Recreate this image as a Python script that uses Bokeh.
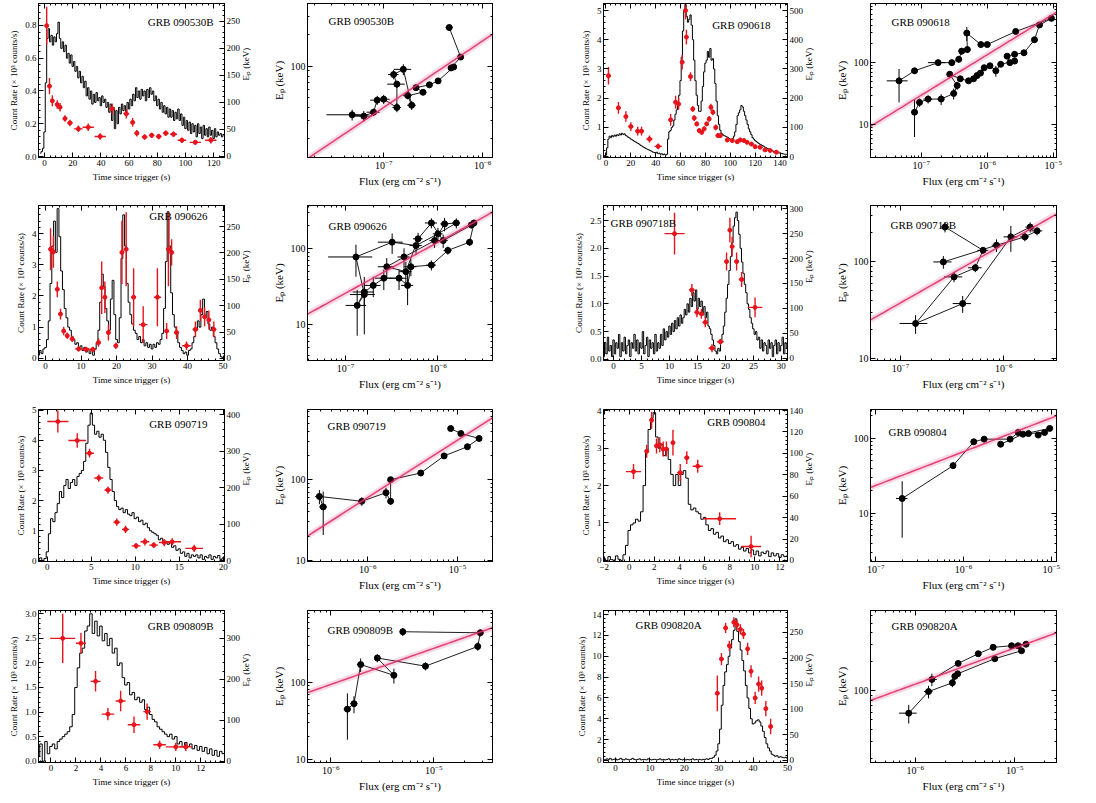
import math
import numpy as np
from bokeh.plotting import figure
from bokeh.models import (Range1d, LinearAxis, LogAxis, FixedTicker, SingleIntervalTicker,
                          Label, CustomJSTickFormatter, BasicTickFormatter, LogTickFormatter,
                          PrintfTickFormatter)
from bokeh.layouts import row, column
from bokeh.embed import file_html
from bokeh.resources import INLINE

FONT = "Liberation Serif"
RED = "#e8141c"
FIT = "#e0306a"

# ------------------------------------------------------------------ DATA
# ---- GRB 090530B
lc_090530b_t0 = -3.0
lc_090530b_dt = 1.0
lc_090530b_rate = [0.02, 0.03, 0.05,
    0.15, 0.45, 0.72, 0.78, 0.70, 0.74, 0.68, 0.73, 0.70, 0.75,
    0.82, 0.72, 0.66, 0.70, 0.64, 0.68, 0.60, 0.63, 0.57, 0.62,
    0.55, 0.58, 0.52, 0.55, 0.48, 0.52, 0.45, 0.49, 0.42, 0.46,
    0.37, 0.42, 0.35, 0.40, 0.32, 0.38, 0.33, 0.39, 0.34, 0.36,
    0.31, 0.37, 0.33, 0.35, 0.30, 0.33, 0.27, 0.32, 0.22, 0.30,
    0.17, 0.28, 0.20, 0.30, 0.26, 0.32, 0.28, 0.31, 0.27, 0.33,
    0.29, 0.35, 0.31, 0.38, 0.34, 0.42, 0.36, 0.40, 0.35, 0.41,
    0.37, 0.40, 0.34, 0.41, 0.36, 0.42, 0.38, 0.40, 0.34, 0.37,
    0.31, 0.35, 0.29, 0.33, 0.27, 0.31, 0.26, 0.30, 0.24, 0.29,
    0.24, 0.28, 0.22, 0.27, 0.23, 0.29, 0.22, 0.26, 0.19, 0.24,
    0.17, 0.22, 0.16, 0.21, 0.14, 0.20, 0.15, 0.19, 0.12, 0.20,
    0.14, 0.18, 0.11, 0.19, 0.13, 0.17, 0.12, 0.18, 0.13, 0.16,
    0.11, 0.17, 0.12, 0.15, 0.13, 0.14, 0.12, 0.13]
ep_090530b_t = [1.5, 3.5, 5.5, 9, 11, 14.5, 18, 24, 31, 39.5, 48, 58, 62.5, 65.5, 71, 76, 81, 86, 91.5, 97.5, 107, 118]
ep_090530b_dt = [1, 1, 1, 1, 1, 1.5, 2, 3, 4, 4, 2, 2, 1.5, 1.5, 2, 2, 2, 2, 2.5, 3, 4, 4]
ep_090530b_val = [242, 130, 103, 96, 91, 70, 62, 51, 54, 37, 88, 79, 63, 43, 36, 39, 37, 43, 41, 30, 26, 30]
ep_090530b_err = [35, 15, 10, 8, 8, 6, 6, 6, 7, 6, 10, 9, 8, 6, 5, 5, 5, 5, 5, 5, 5, 6]
ef_090530b_flux = [4.6e-7, 6.0e-7, 4.8e-7, 5.1e-7, 3.55e-7, 2.9e-7, 2.12e-7, 2.5e-7, 1.75e-7, 1.92e-7,
                   1.58e-7, 1.26e-7, 1.36e-7, 1.36e-7, 1.0e-7, 8.6e-8, 7.9e-8, 6.3e-8, 4.8e-8]
ef_090530b_ep = [235, 122, 96, 98, 72, 66, 62, 56, 52, 42, 93, 83, 67, 40, 48, 47, 36, 33, 34]
ef_090530b_ferr = [0.08, 0.06, 0.06, 0.06, 0.06, 0.07, 0.08, 0.08, 0.1, 0.1, 0.2, 0.12, 0.2, 0.1, 0.15, 0.15, 0.15, 0.2, 0.45]
ef_090530b_eerr = [0.07, 0.05, 0.04, 0.04, 0.05, 0.05, 0.06, 0.06, 0.08, 0.1, 0.12, 0.1, 0.08, 0.1, 0.1, 0.1, 0.08, 0.12, 0.12]
fit_090530b = (1e-7, 40.0, 0.64)

# ---- GRB 090618
lc_090618_t0 = -2.0
lc_090618_dt = 1.0
lc_090618_rate = [0.02, 0.03, 0.05, 0.30, 0.60, 0.70, 0.65, 0.72, 0.68, 0.74,
    0.70, 0.75, 0.72, 0.78, 0.74, 0.80, 0.76, 0.78, 0.72, 0.70,
    0.66, 0.64, 0.60, 0.58, 0.55, 0.52, 0.50, 0.47, 0.45, 0.42,
    0.38, 0.36, 0.33, 0.31, 0.28, 0.26, 0.24, 0.22, 0.20, 0.18,
    0.15, 0.14, 0.12, 0.15, 0.10, 0.12, 0.08, 0.10, 0.06, 0.09,
    0.05, 0.08, 0.60, 0.85, 0.90, 1.00, 1.05, 1.25, 1.45, 1.60,
    1.85, 2.10, 2.60, 3.40, 4.30, 5.00, 5.20, 4.80, 4.60, 4.70,
    4.85, 4.50, 4.00, 3.30, 2.60, 2.10, 1.75, 1.55, 1.55, 1.90,
    2.40, 2.90, 3.20, 3.30, 3.60, 3.40, 3.70, 3.30, 3.35, 3.00,
    2.50, 1.90, 1.40, 1.10, 0.90, 0.80, 0.75, 0.72, 0.70, 0.68,
    0.66, 0.62, 0.60, 0.58, 0.62, 0.70, 0.85, 1.10, 1.40, 1.50,
    1.60, 1.75, 1.70, 1.55, 1.40, 1.25, 1.10, 0.95, 0.85, 0.75,
    0.65, 0.60, 0.55, 0.52, 0.48, 0.45, 0.42, 0.40, 0.38, 0.35,
    0.32, 0.30, 0.28, 0.26, 0.24, 0.22, 0.20, 0.18, 0.17, 0.15,
    0.14, 0.13, 0.12, 0.11, 0.10, 0.09, 0.08, 0.08, 0.07, 0.06]
ep_090618_t = [2, 10, 16, 20, 25.5, 28.6, 35, 42, 52, 56, 58.4, 61.3, 64, 64.7, 68, 69.8, 71, 73,
               75, 77, 79, 81, 83, 84.4, 86, 88.3, 90, 92, 97.6, 101.6, 105.6, 108, 111, 113.5,
               117, 120, 124, 128, 132, 137]
ep_090618_dt = [2, 2, 1.5, 2, 2, 2, 2.5, 3, 1.5, 1, 1, 0.7, 0.7, 0.7, 0.7, 0.7, 0.7, 0.7,
                0.7, 0.7, 0.7, 0.7, 0.7, 0.7, 0.7, 0.7, 0.8, 0.8, 1.5, 1.5, 1.5, 1.5, 1.5, 1.5,
                1.5, 1.5, 2, 2, 2, 2.5]
ep_090618_val = [277, 167, 137, 103, 87, 87, 60, 35, 126, 186, 180, 323, 500, 409, 274, 163, 132, 112,
                 89, 83, 95, 112, 129, 169, 152, 100, 72, 72, 57, 55, 51, 57, 55, 49,
                 43, 34, 32, 23, 21, 15]
ep_090618_err = [30, 20, 18, 15, 15, 15, 12, 10, 20, 22, 20, 25, 30, 25, 15, 10, 10, 8,
                 8, 8, 8, 8, 10, 12, 10, 10, 8, 8, 8, 8, 8, 8, 8, 7,
                 7, 7, 7, 6, 6, 6]
ef_090618_flux = [4.6e-8, 7.9e-8, 1.8e-7, 2.9e-7, 3.7e-7, 4.1e-7, 5.0e-7, 4.9e-7, 8.0e-7, 1.0e-6,
                  2.7e-6, 9.4e-6, 6.2e-6, 5.2e-6, 3.6e-6, 2.6e-6, 2.0e-6, 2.2e-6, 2.6e-6, 1.6e-6,
                  1.35e-6, 1.1e-6, 9.0e-7, 7.9e-7, 7.0e-7, 6.2e-7, 5.2e-7, 3.9e-7, 2.7e-7, 3.5e-7,
                  3.1e-7, 2.0e-7, 1.27e-7, 9.4e-8, 7.9e-8]
ef_090618_ep = [51, 74, 100, 100, 113, 153, 162, 298, 195, 195,
                316, 514, 403, 233, 144, 136, 127, 100, 106, 94,
                74, 89, 83, 68, 62, 55, 51, 55, 65, 43,
                32, 26, 26, 23, 16]
ef_090618_ferr = [0.35, 0.1, 0.3, 0.12, 0.1, 0.1, 0.1, 0.1, 0.1, 0.08,
                  0.06, 0.05, 0.05, 0.05, 0.05, 0.05, 0.05, 0.05, 0.05, 0.06,
                  0.06, 0.06, 0.06, 0.06, 0.06, 0.06, 0.07, 0.08, 0.1, 0.1,
                  0.1, 0.12, 0.15, 0.12, 0.1]
ef_090618_eerr = [0.55, 0.1, 0.12, 0.12, 0.1, 0.12, 0.12, 0.25, 0.08, 0.08,
                  0.05, 0.05, 0.05, 0.05, 0.06, 0.06, 0.06, 0.06, 0.06, 0.08,
                  0.2, 0.1, 0.08, 0.08, 0.08, 0.08, 0.08, 0.1, 0.12, 0.15,
                  0.2, 0.2, 0.15, 0.15, 0.6]
fit_090618 = (1e-7, 30.0, 0.65)

# ---- GRB 090626
lc_090626_t0 = -2.0
lc_090626_dt = 0.5
lc_090626_rate = [0.10, 0.25, 0.15, 0.30, 0.35, 0.60, 1.20, 2.40, 3.60, 4.40,
    3.40, 4.80, 3.90, 2.80, 2.20, 1.60, 1.30, 1.00, 0.90, 0.70,
    0.60, 0.45, 0.50, 0.35, 0.40, 0.25, 0.35, 0.20, 0.30, 0.15,
    0.25, 0.10, 0.30, 0.50, 0.90, 1.80, 2.70, 2.30, 1.60, 1.20,
    0.90, 1.90, 2.50, 1.40, 0.60, 0.50, 1.30, 3.20, 4.60, 3.60,
    2.40, 1.80, 1.40, 1.10, 0.90, 0.80, 0.60, 0.70, 0.50, 0.60,
    0.40, 0.50, 0.35, 0.45, 0.30, 0.45, 0.35, 0.50, 0.45, 0.60,
    0.80, 1.60, 3.10, 4.70, 3.60, 2.10, 1.40, 1.00, 0.80, 0.50,
    0.35, 0.25, 0.15, 0.20, 0.10, 0.25, 0.30, 0.50, 0.70, 0.90,
    1.20, 1.00, 1.40, 1.90, 1.30, 1.50, 1.10, 0.90, 1.00, 0.70,
    0.50, 0.30, 0.15, 0.05, 0.00, 0.00]
ep_090626_t = [1.4, 2.2, 3.3, 4.2, 5.1, 6.1, 7.5, 9.3, 11.4, 13.3, 14.9, 15.8, 16.7, 17.7, 19.8,
               21.5, 22.7, 24.8, 27.5, 31.5, 34.1, 34.6, 35.5, 36.9, 39.7, 42.2, 43.6, 44.8, 46, 47.4]
ep_090626_dt = [0.4, 0.4, 0.4, 0.4, 0.4, 0.5, 0.7, 1.0, 1.2, 1.0, 0.6, 0.4, 0.4, 0.5, 0.6,
                0.4, 0.5, 0.7, 1.2, 1.0, 0.4, 0.4, 0.5, 0.7, 1.2, 0.8, 0.5, 0.5, 0.6, 0.7]
ep_090626_val = [207, 202, 131, 84, 52, 43, 37, 18, 17, 17, 30, 134, 116, 49, 24,
                 201, 207, 116, 64, 116, 52, 207, 201, 49, 24, 55, 91, 79, 73, 55]
ep_090626_err = [40, 30, 15, 10, 8, 6, 6, 5, 5, 5, 8, 50, 30, 15, 6,
                 60, 70, 55, 35, 55, 15, 70, 25, 12, 8, 15, 20, 18, 18, 15]
ef_090626_flux = [2.45e-6, 2.2e-6, 1.28e-6, 8.5e-7, 5.1e-7, 4.7e-7, 3.8e-7, 2.6e-7, 2.0e-7, 1.6e-7,
                  1.34e-7, 1.6e-7, 1.3e-7, 3.2e-7, 5.8e-7, 1.0e-6, 1.58e-6, 1.18e-6, 9.2e-7, 4.3e-7,
                  2.8e-7, 4.5e-7, 6.1e-7, 8.5e-7, 1.14e-6, 2.3e-6]
ef_090626_ep = [218, 122, 95, 61, 58, 33, 41, 41, 33, 27,
                18, 25, 78, 122, 110, 157, 218, 212, 128, 78,
                58, 50, 135, 218, 128, 205]
ef_090626_ferr = [0.08, 0.08, 0.1, 0.12, 0.15, 0.15, 0.2, 0.2, 0.2, 0.25,
                  0.25, 0.3, 0.5, 0.3, 0.15, 0.12, 0.1, 0.1, 0.12, 0.15,
                  0.2, 0.15, 0.12, 0.15, 0.12, 0.08]
ef_090626_eerr = [0.1, 0.1, 0.12, 0.15, 0.25, 0.45, 0.3, 0.3, 0.3, 0.35,
                  0.6, 0.7, 0.45, 0.3, 0.25, 0.2, 0.15, 0.2, 0.2, 0.3,
                  0.3, 0.35, 0.2, 0.15, 0.2, 0.1]
fit_090626 = (1e-7, 26.0, 0.67)

# ---- GRB 090718B
lc_090718b_t0 = -2.0
lc_090718b_dt = 0.25
lc_090718b_rate = [0.20, 0.05, 0.30, 0.10, 0.40, 0.15, 0.25, 0.05,
    0.35, 0.10, 0.30, 0.20, 0.45, 0.05, 0.30, 0.15,
    0.40, 0.10, 0.25, 0.35, 0.05, 0.30, 0.20, 0.45,
    0.15, 0.35, 0.10, 0.30, 0.20, 0.50, 0.10, 0.25,
    0.40, 0.05, 0.35, 0.20, 0.30, 0.10, 0.45, 0.15,
    0.30, 0.20, 0.45, 0.25, 0.55, 0.35, 0.50, 0.40,
    0.60, 0.45, 0.65, 0.50, 0.70, 0.55, 0.75, 0.60,
    0.80, 0.65, 0.75, 0.90, 0.80, 1.00, 0.85, 1.10,
    0.95, 1.20, 1.05, 1.25, 0.90, 1.10, 0.95, 1.05,
    0.80, 0.95, 0.75, 0.85, 0.60, 0.55, 0.45, 0.35,
    0.25, 0.15, 0.10, 0.20, 0.15, 0.30, 0.45, 0.60,
    0.85, 1.10, 1.35, 1.60, 1.85, 2.10, 2.40, 2.55,
    2.65, 2.50, 2.25, 2.00, 1.75, 1.55, 1.35, 1.20,
    1.00, 0.90, 0.75, 0.65, 0.55, 0.45, 0.50, 0.35,
    0.40, 0.20, 0.35, 0.15, 0.30, 0.25, 0.10, 0.35,
    0.20, 0.30, 0.05, 0.25, 0.35, 0.10, 0.30, 0.15,
    0.25, 0.40, 0.10, 0.30, 0.20]
ep_090718b_t = [10.9, 14.0, 14.9, 15.7, 16.4, 17.6, 19.1, 20.2, 20.8, 21.2, 22.0, 22.9, 25.3]
ep_090718b_dt = [1.8, 0.5, 0.4, 0.4, 0.5, 0.6, 0.6, 0.3, 0.3, 0.3, 0.4, 0.5, 1.3]
ep_090718b_val = [250, 137, 92, 89, 72, 20, 33, 194, 257, 224, 194, 158, 102]
ep_090718b_err = [42, 12, 10, 10, 10, 8, 6, 18, 25, 20, 18, 15, 20]
ef_090718b_flux = [2.7e-7, 6.3e-7, 5.3e-7, 3.3e-7, 1.4e-7, 4.0e-7, 1.17e-6, 1.8e-6, 2.1e-6, 1.6e-6, 8.5e-7, 2.6e-7]
ef_090718b_ep = [230, 132, 87, 70, 23, 37, 182, 230, 210, 182, 149, 100]
ef_090718b_ferr = [0.1, 0.12, 0.15, 0.2, 0.3, 0.2, 0.15, 0.1, 0.12, 0.1, 0.1, 0.2]
ef_090718b_eerr = [0.12, 0.08, 0.1, 0.12, 0.22, 0.2, 0.3, 0.12, 0.1, 0.1, 0.15, 0.15]
fit_090718b = (1e-7, 37.6, 0.61)

# ---- GRB 090719
lc_090719_t0 = -1.0
lc_090719_dt = 0.25
lc_090719_rate = [0.05, 0.10, 0.00, 0.08, 0.30, 0.90, 1.40, 1.30, 1.60, 1.90,
    2.30, 2.10, 2.50, 2.70, 2.40, 2.60, 2.70, 2.50, 2.80, 2.90,
    3.00, 3.30, 3.90, 4.50, 4.90, 4.50, 4.20, 4.30, 4.10, 4.20,
    4.00, 3.60, 3.10, 2.70, 2.30, 2.00, 1.80, 1.70, 1.75, 1.60,
    1.70, 1.55, 1.50, 1.60, 1.40, 1.45, 1.30, 1.35, 1.20, 1.25,
    1.10, 1.00, 0.95, 0.90, 0.85, 0.70, 0.75, 0.60, 0.65, 0.55,
    0.60, 0.45, 0.50, 0.35, 0.40, 0.25, 0.30, 0.15, 0.25, 0.10,
    0.20, 0.15, 0.20, 0.10, 0.20, 0.05, 0.15, 0.10, 0.20, 0.05,
    0.15, 0.10, 0.18, 0.05, 0.10]
ep_090719_t = [1.2, 3.4, 4.8, 5.85, 6.9, 7.9, 8.9, 10.1, 11.1, 12.1, 13.3, 14.2, 16.7]
ep_090719_dt = [1.2, 1.0, 0.5, 0.5, 0.4, 0.4, 0.4, 0.5, 0.5, 0.5, 0.6, 1.0, 1.0]
ep_090719_val = [382, 330, 295, 227, 194, 106, 86, 41, 52, 43, 50, 52, 34]
ep_090719_err = [30, 20, 12, 10, 10, 10, 10, 8, 10, 8, 10, 10, 10]
ef_090719_flux = [8.4e-6, 1.09e-5, 1.74e-5, 1.29e-5, 7.1e-6, 3.9e-6, 1.8e-6, 1.8e-6, 1.6e-6, 8.6e-7, 2.9e-7, 3.2e-7]
ef_090719_ep = [430, 373, 324, 256, 197, 121, 100, 54, 69, 54, 62, 46]
ef_090719_ferr = [0.05, 0.05, 0.05, 0.05, 0.06, 0.06, 0.05, 0.05, 0.05, 0.08, 0.1, 0.1]
ef_090719_eerr = [0.05, 0.05, 0.05, 0.05, 0.05, 0.08, 0.06, 0.1, 0.15, 0.12, 0.2, 0.55]
fit_090719 = (1e-6, 60.0, 0.71)

# ---- GRB 090804
lc_090804_t0 = -2.0
lc_090804_dt = 0.2
lc_090804_rate = [0.05, 0.00, 0.10, 0.02, 0.00, 0.12, 0.03, 0.00, 0.15, 0.40,
    0.80, 0.95, 1.00, 1.10, 1.05, 1.30, 2.00, 2.90, 3.50, 3.80,
    3.95, 3.30, 3.00, 3.10, 2.80, 3.00, 2.70, 2.30, 2.00, 2.30,
    2.00, 2.30, 2.40, 2.20, 1.50, 1.35, 1.40, 1.30, 1.25, 1.10,
    1.15, 0.95, 0.80, 0.85, 0.70, 0.75, 0.60, 0.65, 0.50, 0.55,
    0.45, 0.50, 0.38, 0.42, 0.30, 0.35, 0.25, 0.32, 0.20, 0.28,
    0.15, 0.25, 0.12, 0.22, 0.18, 0.25, 0.10, 0.20, 0.12, 0.18,
    0.08, 0.15, 0.10, 0.12]
ep_090804_t = [0.34, 1.39, 1.78, 2.17, 2.43, 2.7, 2.96, 3.48, 4.06, 4.58, 5.45, 7.2, 9.7]
ep_090804_dt = [0.6, 0.15, 0.12, 0.12, 0.12, 0.12, 0.15, 0.15, 0.25, 0.2, 0.4, 1.3, 0.8]
ep_090804_val = [83, 102, 131, 107, 108, 104, 104, 110, 82, 96, 88, 39, 13]
ep_090804_err = [7, 6, 8, 7, 7, 7, 7, 12, 8, 6, 6, 6, 10]
ef_090804_flux = [2.65e-6, 4.75e-6, 9.6e-6, 7.1e-6, 8.4e-6, 5.5e-6, 4.2e-6, 3.4e-6, 1.72e-6, 1.31e-6, 7.6e-7, 2.0e-7]
ef_090804_ep = [83, 113, 135, 110, 119, 115, 119, 97, 97, 89.5, 43, 15.7]
ef_090804_ferr = [0.05, 0.05, 0.04, 0.04, 0.04, 0.05, 0.05, 0.05, 0.06, 0.08, 0.08, 0.15]
ef_090804_eerr = [0.06, 0.06, 0.05, 0.05, 0.05, 0.06, 0.06, 0.06, 0.06, 0.08, 0.1, 0.7]
fit_090804 = (1e-6, 66.0, 0.45)

# ---- GRB 090809B
lc_090809b_t0 = -1.0
lc_090809b_dt = 0.2
lc_090809b_rate = [0.10, 0.35, 0.00, 0.40, 0.15, 0.30, 0.35, 0.25, 0.40, 0.45,
    0.50, 0.55, 0.60, 0.70, 0.95, 1.50, 1.90, 2.20, 2.30, 2.65,
    2.75, 3.00, 2.60, 2.85, 2.55, 2.75, 2.45, 2.60, 2.35, 2.50,
    2.20, 2.30, 1.95, 2.00, 1.70, 1.55, 1.60, 1.35, 1.40, 1.25,
    1.30, 1.20, 1.25, 1.05, 1.10, 0.95, 0.85, 0.80, 0.70, 0.65,
    0.60, 0.55, 0.50, 0.55, 0.45, 0.50, 0.35, 0.40, 0.30, 0.38,
    0.30, 0.35, 0.25, 0.32, 0.22, 0.30, 0.20, 0.28, 0.15, 0.25,
    0.12, 0.22, 0.10, 0.20, 0.15]
ep_090809b_t = [0.94, 2.4, 3.57, 4.56, 5.58, 6.65, 7.7, 8.7, 10.0, 10.8]
ep_090809b_dt = [1.0, 0.4, 0.4, 0.5, 0.4, 0.5, 0.3, 0.5, 0.8, 0.5]
ep_090809b_val = [300, 288, 195, 115, 147, 89, 121, 40, 35, 35]
ep_090809b_err = [60, 25, 25, 15, 25, 20, 20, 10, 10, 10]
ef_090809b_flux = [5.0e-6, 2.83e-5, 2.67e-5, 8.3e-6, 2.83e-6, 4.1e-6, 1.95e-6, 1.68e-6, 1.45e-6]
ef_090809b_ep = [457, 443, 294, 163, 208, 124, 171, 53, 45]
ef_090809b_ferr = [0.05, 0.05, 0.05, 0.06, 0.07, 0.07, 0.08, 0.08, 0.08]
ef_090809b_eerr = [0.12, 0.1, 0.12, 0.12, 0.12, 0.22, 0.2, 0.25, 0.6]
fit_090809b = (1e-5, 278.0, 0.47)

# ---- GRB 090820A
lc_090820a_t0 = -3.5
lc_090820a_dt = 0.5
lc_090820a_rate = [0.10, 0.05, 0.15, 0.10, 0.20, 0.05, 0.10, 0.15, 0.05, 0.10,
    0.20, 0.10, 0.05, 0.15, 0.10, 0.05, 0.10, 0.20, 0.10, 0.05,
    0.10, 0.15, 0.05, 0.10, 0.10, 0.05, 0.15, 0.10, 0.05, 0.10,
    0.10, 0.05, 0.10, 0.15, 0.05, 0.10, 0.05, 0.10, 0.15, 0.05,
    0.10, 0.05, 0.10, 0.05, 0.15, 0.10, 0.05, 0.10, 0.05, 0.10,
    0.05, 0.10, 0.15, 0.05, 0.10, 0.05, 0.10, 0.05, 0.10, 0.10,
    0.15,
    0.10, 0.20, 0.20, 0.30, 0.50, 0.90, 1.60, 3.00, 5.30, 7.20,
    8.50, 9.20, 10.0, 10.8, 11.6, 12.5, 13.6, 12.4, 11.4, 10.6,
    9.60, 8.60, 7.20, 6.00, 5.00, 4.00, 3.50, 3.60, 3.80, 3.90,
    3.70, 3.30, 2.80, 2.20, 1.60, 1.20, 0.90, 0.60, 0.50, 0.40,
    0.45, 0.30, 0.35, 0.30, 0.25, 0.30, 0.20]
ep_090820a_t = [29.6, 30.8, 32.0, 33.1, 34.4, 35.3, 36.3, 37.2, 38.4, 39.4, 40.6, 41.6, 42.5, 43.7, 45.1]
ep_090820a_dt = [0.6, 0.5, 0.5, 0.5, 0.5, 0.5, 0.5, 0.5, 0.5, 0.5, 0.5, 0.5, 0.5, 0.5, 0.6]
ep_090820a_val = [131, 198, 259, 224, 270, 265, 256, 247, 218, 174, 122, 149, 141, 101, 66]
ep_090820a_err = [35, 12, 10, 10, 10, 10, 10, 10, 12, 12, 12, 15, 15, 15, 15]
ef_090820a_flux = [1.47e-6, 2.7e-6, 4.3e-6, 6.07e-6, 9.3e-6, 1.3e-5, 1.08e-5, 1.17e-5, 6.3e-6, 2.67e-6,
                   2.5e-6, 2.36e-6, 1.36e-6, 8.6e-7]
ef_090820a_ep = [131, 192, 242, 282, 293, 304, 293, 260, 215, 150, 141, 121, 98, 58.5]
ef_090820a_ferr = [0.12, 0.05, 0.04, 0.04, 0.04, 0.04, 0.04, 0.04, 0.04, 0.06, 0.06, 0.06, 0.1, 0.2]
ef_090820a_eerr = [0.15, 0.06, 0.05, 0.04, 0.04, 0.04, 0.04, 0.05, 0.05, 0.06, 0.08, 0.1, 0.15, 0.22]
fit_090820a = (1e-6, 117.0, 0.375)

# ------------------------------------------------------------------ PANEL SETTINGS
LC = {
    "090530B": dict(t0=lc_090530b_t0, dt=lc_090530b_dt, rate=lc_090530b_rate, ept=ep_090530b_t, epdt=ep_090530b_dt,
                    epv=ep_090530b_val, epe=ep_090530b_err, xr=(-4.3, 127.7), yr=(-0.006, 0.934), y2r=(-2, 283),
                    xi=20, yi=0.2, y2i=50, yfmt="%.1f", lab=("right", 11, 12)),
    "090618": dict(t0=lc_090618_t0, dt=lc_090618_dt, rate=lc_090618_rate, ept=ep_090618_t, epdt=ep_090618_dt,
                   epv=ep_090618_val, epe=ep_090618_err, xr=(-2, 146), yr=(-0.03, 5.24), y2r=(-3, 524),
                   xi=20, yi=1, y2i=100, yfmt="%d", lab=("right", 17, 15)),
    "090626": dict(t0=lc_090626_t0, dt=lc_090626_dt, rate=lc_090626_rate, ept=ep_090626_t, epdt=ep_090626_dt,
                   epv=ep_090626_val, epe=ep_090626_err, xr=(-2, 50.4), yr=(-0.07, 4.9), y2r=(-4, 290),
                   xi=10, yi=1, y2i=50, yfmt="%d", lab=("right", 17, 11)),
    "090718B": dict(t0=lc_090718b_t0, dt=lc_090718b_dt, rate=lc_090718b_rate, ept=ep_090718b_t, epdt=ep_090718b_dt,
                    epv=ep_090718b_val, epe=ep_090718b_err, xr=(-1.8, 31.1), yr=(-0.02, 2.77), y2r=(-4.6, 306.5),
                    xi=5, yi=0.5, y2i=50, yfmt="%.1f", lab=("left", 7, 14)),
    "090719": dict(t0=lc_090719_t0, dt=lc_090719_dt, rate=lc_090719_rate, ept=ep_090719_t, epdt=ep_090719_dt,
                   epv=ep_090719_val, epe=ep_090719_err, xr=(-1, 20.15), yr=(-0.02, 5.02), y2r=(-2, 415),
                   xi=5, yi=1, y2i=100, yfmt="%d", lab=("right", 17, 9)),
    "090804": dict(t0=lc_090804_t0, dt=lc_090804_dt, rate=lc_090804_rate, ept=ep_090804_t, epdt=ep_090804_dt,
                   epv=ep_090804_val, epe=ep_090804_err, xr=(-2.05, 12.6), yr=(-0.03, 4.035), y2r=(-1, 141),
                   xi=2, yi=1, y2i=20, yfmt="%d", lab=("right", 22, 7)),
    "090809B": dict(t0=lc_090809b_t0, dt=lc_090809b_dt, rate=lc_090809b_rate, ept=ep_090809b_t, epdt=ep_090809b_dt,
                    epv=ep_090809b_val, epe=ep_090809b_err, xr=(-1, 13.9), yr=(-0.027, 3.067), y2r=(-3.2, 368),
                    xi=2, yi=0.5, y2i=100, yfmt="%.1f", lab=("right", 11, 10)),
    "090820A": dict(t0=lc_090820a_t0, dt=lc_090820a_dt, rate=lc_090820a_rate, ept=ep_090820a_t, epdt=ep_090820a_dt,
                    epv=ep_090820a_val, epe=ep_090820a_err, xr=(-3.5, 50), yr=(-0.2, 14.4), y2r=(-4.4, 293),
                    xi=10, yi=2, y2i=50, yfmt="%d", lab=("left", 32, 19)),
}
EF = {
    "090530B": dict(flux=ef_090530b_flux, ep=ef_090530b_ep, ferr=ef_090530b_ferr, eerr=ef_090530b_eerr,
                    fit=fit_090530b, lx=(-7.77, -5.9), yr=(13.2, 400), lab=(21, 14)),
    "090618": dict(flux=ef_090618_flux, ep=ef_090618_ep, ferr=ef_090618_ferr, eerr=ef_090618_eerr,
                   fit=fit_090618, lx=(-7.77, -4.95), yr=(3.0, 890), lab=(21, 16)),
    "090626": dict(flux=ef_090626_flux, ep=ef_090626_ep, ferr=ef_090626_ferr, eerr=ef_090626_eerr,
                   fit=fit_090626, lx=(-7.41, -5.41), yr=(3.4, 370), lab=(21, 15)),
    "090718B": dict(flux=ef_090718b_flux, ep=ef_090718b_ep, ferr=ef_090718b_ferr, eerr=ef_090718b_eerr,
                    fit=fit_090718b, lx=(-7.29, -5.49), yr=(9.5, 385), lab=(20, 15)),
    "090719": dict(flux=ef_090719_flux, ep=ef_090719_ep, ferr=ef_090719_ferr, eerr=ef_090719_eerr,
                   fit=fit_090719, lx=(-6.67, -4.61), yr=(9.7, 740), lab=(20, 11)),
    "090804": dict(flux=ef_090804_flux, ep=ef_090804_ep, ferr=ef_090804_ferr, eerr=ef_090804_eerr,
                   fit=fit_090804, lx=(-7.06, -4.94), yr=(2.27, 241), lab=(18, 18)),
    "090809B": dict(flux=ef_090809b_flux, ep=ef_090809b_ep, ferr=ef_090809b_ferr, eerr=ef_090809b_eerr,
                    fit=fit_090809b, lx=(-6.226, -4.43), yr=(9.1, 863), lab=(20, 16)),
    "090820A": dict(flux=ef_090820a_flux, ep=ef_090820a_ep, ferr=ef_090820a_ferr, eerr=ef_090820a_eerr,
                    fit=fit_090820a, lx=(-6.45, -4.58), yr=(18, 680), lab=(21, 15)),
}

# column geometry: (width, border_left, border_right)
COLS = [(265, 38, 41), (283, 42, 56), (282, 55, 43), (266, 40, 40)]
# rows: (height, [(top, bottom) for each of 4 columns], [grb left, grb right])
ROWS = [
    (196, [(3, 39), (3, 36), (3, 39), (2, 36)], ["090530B", "090618"]),
    (202, [(3, 37), (9, 37), (7, 37), (7, 38)], ["090626", "090718B"]),
    (202, [(10, 39), (11, 38), (10, 39), (9, 39)], ["090719", "090804"]),
    (203, [(10, 40), (7, 41), (3, 37), (8, 37)], ["090809B", "090820A"]),
]


def blank():
    return CustomJSTickFormatter(code="return ''")


def style(ax, tick_fs, label_fs):
    ax.axis_line_color = "black"
    ax.axis_line_width = 1
    ax.major_tick_in = 5
    ax.major_tick_out = 0
    ax.minor_tick_in = 2
    ax.minor_tick_out = 0
    ax.major_tick_line_color = "black"
    ax.minor_tick_line_color = "black"
    ax.major_label_text_font = FONT
    ax.major_label_text_font_size = tick_fs
    ax.major_label_text_color = "black"
    ax.axis_label_text_font = FONT
    ax.axis_label_text_font_size = label_fs
    ax.axis_label_text_font_style = "normal"
    ax.axis_label_text_color = "black"
    ax.major_label_standoff = 2
    ax.axis_label_standoff = 3


def base_fig(W, H, bl, br, bt, bb, **kw):
    p = figure(width=W, height=H, output_backend="svg", toolbar_location=None,
               min_border_left=bl, min_border_right=br, min_border_top=bt, min_border_bottom=bb, **kw)
    p.xgrid.visible = False
    p.ygrid.visible = False
    p.outline_line_color = "black"
    p.background_fill_color = "white"
    p.border_fill_color = "white"
    return p


def grb_label(p, name, fw, fh, align, dx, dy):
    x = fw - dx if align == "right" else dx
    p.add_layout(Label(x=x, y=fh - dy, x_units="screen", y_units="screen", text="GRB " + name,
                       text_font=FONT, text_font_size="11px", text_align=align,
                       text_baseline="top", text_color="black"))


def make_lc(name, W, H, bl, br, bt, bb):
    c = LC[name]
    p = base_fig(W, H, bl, br, bt, bb, x_range=Range1d(*c["xr"]), y_range=Range1d(*c["yr"]))
    p.extra_y_ranges = {"ep": Range1d(*c["y2r"])}
    t = c["t0"] + c["dt"] * np.arange(len(c["rate"]))
    p.step(t, c["rate"], mode="center", line_color="black", line_width=1)
    et = np.array(c["ept"], float)
    ed = np.array(c["epdt"], float)
    ev = np.array(c["epv"], float)
    ee = np.array(c["epe"], float)
    p.segment(et - ed, ev, et + ed, ev, y_range_name="ep", line_color=RED, line_width=1.4)
    p.segment(et, ev - ee, et, ev + ee, y_range_name="ep", line_color=RED, line_width=1.4)
    p.scatter(et, ev, y_range_name="ep", size=4, fill_color=RED, line_color=RED)

    xa = p.xaxis[0]
    ya = p.yaxis[0]
    xa.ticker = SingleIntervalTicker(interval=c["xi"], num_minor_ticks=5)
    ya.ticker = SingleIntervalTicker(interval=c["yi"], num_minor_ticks=5)
    ya.formatter = PrintfTickFormatter(format=c["yfmt"])
    xa.axis_label = "Time since trigger (s)"
    ya.axis_label = "Count Rate (× 10³ counts/s)"
    style(xa, "9px", "9px")
    style(ya, "9px", "9px")

    ra = LinearAxis(y_range_name="ep", ticker=SingleIntervalTicker(interval=c["y2i"], num_minor_ticks=5),
                    axis_label="Eₚ (keV)")
    style(ra, "9px", "9px")
    if hasattr(ra, "axis_label_orientation"):
        ra.axis_label_orientation = math.pi / 2
    p.add_layout(ra, "right")
    ta = LinearAxis(ticker=SingleIntervalTicker(interval=c["xi"], num_minor_ticks=5), formatter=blank())
    style(ta, "9px", "9px")
    ta.major_label_standoff = 0
    p.add_layout(ta, "above")

    fw, fh = W - bl - br, H - bt - bb
    align, dx, dy = c["lab"]
    grb_label(p, name, fw, fh, align, dx, dy)
    return p


X_MAJ = [10.0 ** k for k in range(-9, -2)]
X_MIN = [m * 10.0 ** k for k in range(-9, -2) for m in range(2, 10)]
Y_MAJ = [1.0, 10.0, 100.0, 1000.0]
Y_MIN = [m * 10.0 ** k for k in range(0, 4) for m in range(2, 10)]


def make_ef(name, W, H, bl, br, bt, bb):
    c = EF[name]
    lx0, lx1 = c["lx"]
    p = base_fig(W, H, bl, br, bt, bb, x_axis_type="log", y_axis_type="log",
                 x_range=Range1d(10 ** lx0, 10 ** lx1), y_range=Range1d(*c["yr"]))
    f = np.array(c["flux"], float)
    e = np.array(c["ep"], float)
    fe = np.array(c["ferr"], float)
    ee = np.array(c["eerr"], float)
    p.line(f, e, line_color="#1e1e1e", line_width=1)
    p.segment(f * (1 - fe), e, f * (1 + fe), e, line_color="black", line_width=1)
    p.segment(f, e * (1 - ee), f, e * (1 + ee), line_color="black", line_width=1)
    p.scatter(f, e, size=6, fill_color="black", line_color="black")

    pivot, norm, idx = c["fit"]
    xs = np.logspace(lx0, lx1, 60)
    ys = norm * (xs / pivot) ** idx
    p.line(xs, ys, line_color=FIT, line_width=6, line_alpha=0.18)
    p.line(xs, ys, line_color=FIT, line_width=1.5, line_alpha=0.9)

    xa = p.xaxis[0]
    ya = p.yaxis[0]
    xa.ticker = FixedTicker(ticks=X_MAJ, minor_ticks=X_MIN)
    xa.formatter = LogTickFormatter()
    ya.ticker = FixedTicker(ticks=Y_MAJ, minor_ticks=Y_MIN)
    ya.formatter = BasicTickFormatter()
    xa.axis_label = "Flux (erg cm⁻² s⁻¹)"
    ya.axis_label = "Eₚ (keV)"
    style(xa, "10px", "11px")
    style(ya, "10px", "11px")

    ta = LogAxis(ticker=FixedTicker(ticks=X_MAJ, minor_ticks=X_MIN), formatter=blank())
    ra = LogAxis(ticker=FixedTicker(ticks=Y_MAJ, minor_ticks=Y_MIN), formatter=blank())
    for a in (ta, ra):
        style(a, "10px", "10px")
        a.major_label_standoff = 0
    p.add_layout(ta, "above")
    p.add_layout(ra, "right")

    fw, fh = W - bl - br, H - bt - bb
    dx, dy = c["lab"]
    grb_label(p, name, fw, fh, "left", dx, dy)
    return p


rows = []
for H, tb, names in ROWS:
    figs = []
    for ci, (W, bl, br) in enumerate(COLS):
        bt, bb = tb[ci]
        name = names[0] if ci < 2 else names[1]
        if ci % 2 == 0:
            figs.append(make_lc(name, W, H, bl, br, bt, bb))
        else:
            figs.append(make_ef(name, W, H, bl, br, bt, bb))
    rows.append(row(*figs))

layout = column(*rows)
open("out.html", "w").write(file_html(layout, INLINE, title="GRB Ep-flux"))
